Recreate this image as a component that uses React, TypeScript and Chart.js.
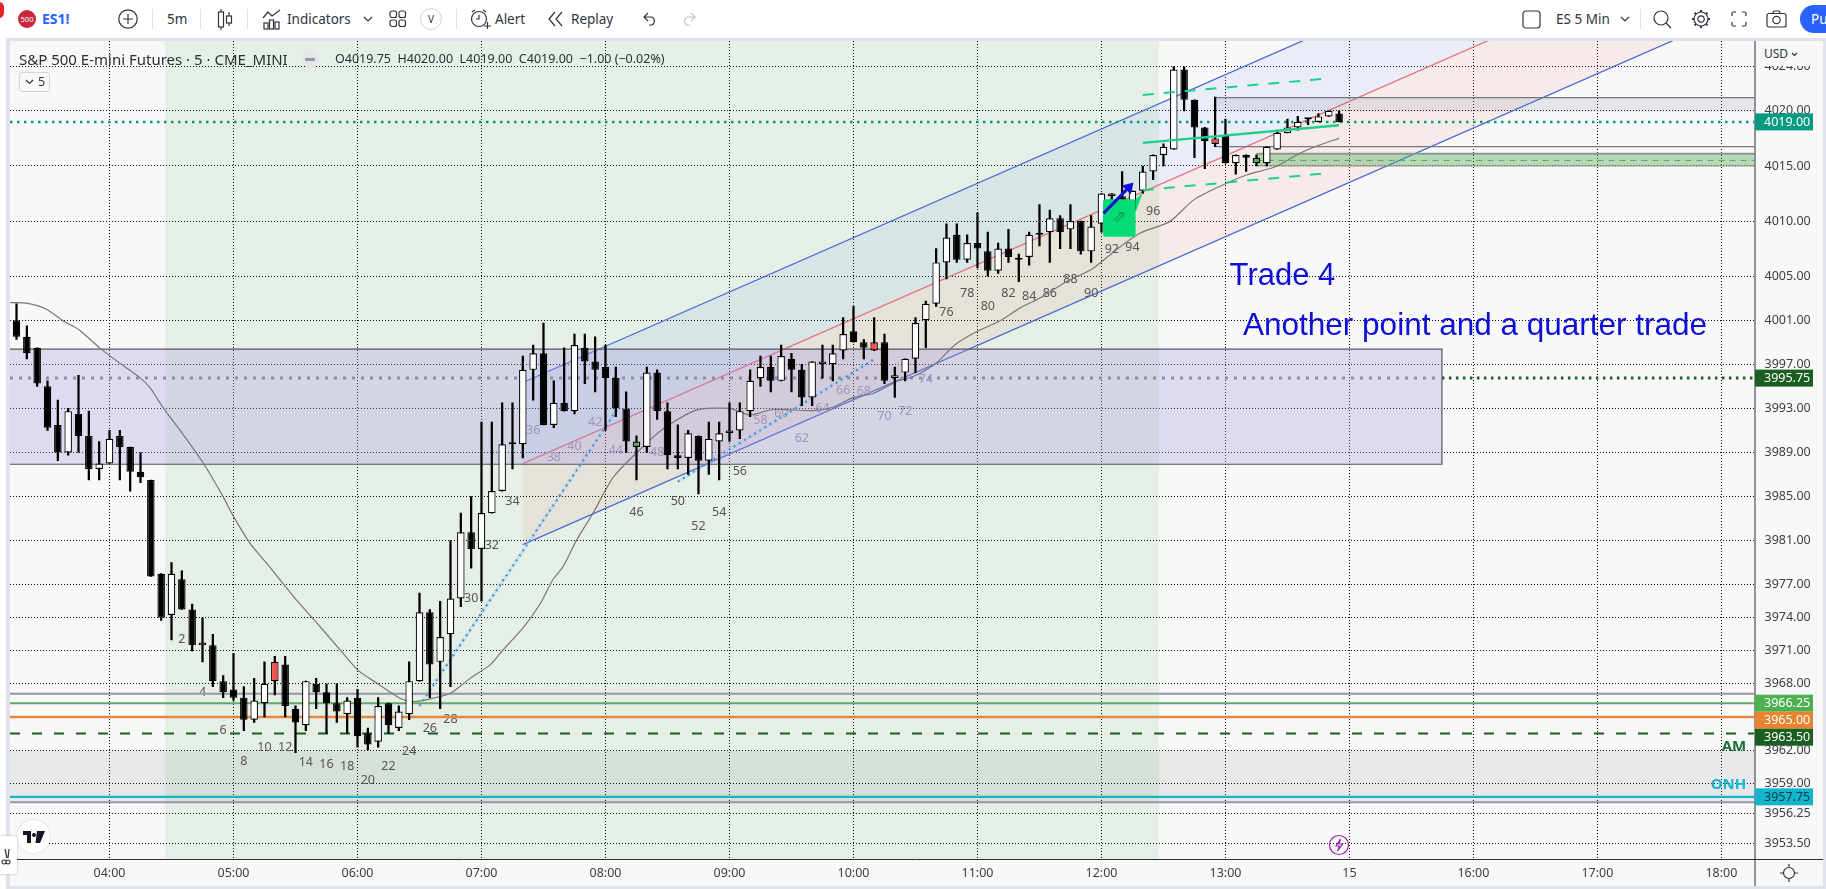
import React, { useEffect, useRef } from "react";
import { Chart, registerables } from "chart.js";

Chart.register(...registerables);

// ---------- data (x values are 5-minute slots counted from 04:00, y values are prices) ----------
const firstSlot = -9;
const opens = [
  4001, 3999.5, 3998.5, 3995, 3991.5, 3989, 3992.5, 3990.5, 3987.5, 3988,
  3990.5, 3989.5, 3987.25, 3986.5, 3978, 3974.25, 3977.5, 3974.75, 3971.5, 3971.5,
  3968.25, 3967.5, 3966.75, 3964.75, 3966.25, 3970, 3969.75, 3965.75, 3964.25, 3968,
  3967.25, 3966.25, 3965.25, 3966.75, 3963.5, 3962.75, 3966.25, 3964, 3965.25, 3968.25,
  3974.5, 3970, 3972.5, 3975.75, 3981.75, 3980.25, 3983.5, 3985.5, 3989.75, 3989.75,
  3996.5, 3998, 3991.5, 3993.5, 3992.75, 3998.5, 3997.25, 3996.75, 3995.75, 3993,
  3990, 3989.5, 3996.25, 3992.75, 3988.75, 3988.5, 3990.5, 3988.25, 3990, 3990.75,
  3991, 3992.75, 3995.75, 3996.75, 3995.5, 3997.5, 3996.5, 3994, 3997, 3997,
  3998.25, 4000, 3999, 3999, 3999, 3995.75, 3996.25, 3997.5, 4001, 4002.5,
  4006.25, 4008.75, 4006.5, 4008, 4007.25, 4005.5, 4007.5, 4006.5, 4006.75, 4008.75,
  4009, 4010.25, 4009.25, 4010, 4007.25, 4009.75, 4012.25, 4012.25, 4011, 4012.75,
  4014.5, 4016, 4016.5, 4023.75, 4021, 4018.5, 4017.5, 4017.75, 4015.25, 4016,
  4015.25, 4015.25, 4016.5, 4018, 4018.5, 4019.25, 4019, 4019.5, 4019.75,
];
const highs = [
  4002.5, 4000.5, 3998.5, 3995.5, 3993.75, 3993, 3996, 3992.75, 3990, 3991,
  3991, 3989.5, 3989, 3986.5, 3978, 3979, 3978.25, 3975.25, 3974, 3972.5,
  3968.75, 3970.75, 3967.75, 3968.5, 3970, 3970.5, 3970.5, 3966, 3968.25, 3968.5,
  3968, 3968, 3966.75, 3967.5, 3964, 3966.75, 3966.25, 3966, 3970, 3976.25,
  3974.75, 3975.5, 3981, 3983.5, 3985, 3991.75, 3991.75, 3993.5, 3993.5, 3997.75,
  3998.75, 4000.75, 3995.5, 3998.5, 3999.75, 3999.75, 3999.5, 3998.75, 3996.75, 3994.5,
  3990.5, 3996.75, 3996.5, 3993.5, 3991.5, 3991, 3990.5, 3991.75, 3991.75, 3993.5,
  3993.5, 3996.5, 3997.75, 3997.75, 3998.75, 3998, 3997, 3997.25, 3998.75, 3998.75,
  4001.25, 4002.25, 3999.25, 4001.25, 3999.75, 3996.75, 3997.5, 4001.25, 4002.75, 4007.5,
  4009.75, 4009.75, 4008.75, 4010.75, 4009, 4008, 4009.25, 4007, 4009, 4011.5,
  4011, 4010.5, 4011.5, 4010, 4010.5, 4012.5, 4012.5, 4014.5, 4012.75, 4015,
  4016, 4017, 4024, 4024, 4021, 4018.5, 4021.25, 4019.25, 4016, 4016,
  4016, 4016.75, 4018.25, 4019.25, 4019.5, 4019.25, 4019.75, 4020, 4020,
];
const lows = [
  3999.25, 3997.5, 3995, 3991, 3988.25, 3988.75, 3989, 3986.5, 3986.5, 3988,
  3986.5, 3985.5, 3986.25, 3977.75, 3973.75, 3972, 3974.75, 3971, 3970, 3967.75,
  3966.75, 3966.5, 3963.75, 3964.5, 3965, 3967, 3965, 3961.75, 3963.75, 3965.75,
  3963.5, 3964.5, 3963.5, 3962.25, 3962, 3962.25, 3963.5, 3963.75, 3964.75, 3968.25,
  3966.75, 3965.75, 3967.75, 3975, 3978.5, 3975.5, 3983.5, 3985.5, 3987.5, 3988.5,
  3993.75, 3991.5, 3991.25, 3992.75, 3992.5, 3995.25, 3994.5, 3991, 3992.25, 3989,
  3986.5, 3989, 3992, 3987.5, 3987.5, 3987, 3985.25, 3987, 3986.5, 3990,
  3990.25, 3992.25, 3995, 3994.5, 3995.5, 3994.5, 3993.25, 3993.25, 3995.75, 3995.5,
  3997.5, 3999, 3997.5, 3998.25, 3995.25, 3994, 3995.5, 3996.25, 3998.5, 4002.25,
  4004.75, 4006.25, 4006.25, 4005.75, 4005, 4005.25, 4006.25, 4004.5, 4006, 4007.75,
  4006.25, 4007.5, 4007.5, 4007, 4006.25, 4009, 4010, 4010, 4011, 4012.5,
  4013.75, 4015, 4016.5, 4020, 4015.75, 4014.75, 4016.75, 4015.25, 4014.25, 4014.5,
  4015, 4015, 4016.5, 4018, 4018.25, 4018.75, 4019, 4019.5, 4019,
];
const closes = [
  3999.5, 3998, 3995.25, 3991.25, 3989, 3992.75, 3990.5, 3987.5, 3988, 3990.25,
  3989.5, 3987.25, 3986.75, 3977.75, 3974, 3978, 3974.75, 3971.5, 3971.75, 3968.25,
  3967.25, 3966.75, 3964.75, 3966.5, 3968, 3968.25, 3966, 3964.5, 3968.25, 3967.25,
  3966.25, 3965.5, 3966.5, 3963.25, 3962.5, 3966, 3964.25, 3965.5, 3968.25, 3974.5,
  3969.75, 3972.25, 3975.75, 3981.75, 3980.25, 3983.5, 3985.5, 3989.75, 3989.75, 3996.5,
  3998, 3991.5, 3993.5, 3992.75, 3998.75, 3997.25, 3996.5, 3995.75, 3993, 3990,
  3989.5, 3996.25, 3992.75, 3988.75, 3988.5, 3990.75, 3988.25, 3990.25, 3990.75, 3991,
  3992.75, 3995.5, 3996.75, 3995.5, 3997.75, 3996.5, 3994, 3997.25, 3997.25, 3998,
  3999.75, 3999, 3998.5, 3998.25, 3995.5, 3996, 3997.5, 4000.75, 4002.5, 4006.25,
  4008.5, 4006.5, 4008, 4007.5, 4005.5, 4007.5, 4006.75, 4006.5, 4008.75, 4008.75,
  4010.25, 4009, 4010, 4007.25, 4009.5, 4012.5, 4012.5, 4011.5, 4012.75, 4014.5,
  4016, 4016.75, 4023.75, 4021, 4018.5, 4017.25, 4017, 4015.25, 4016, 4015.75,
  4015.75, 4016.75, 4018, 4018.5, 4019, 4019.25, 4019.5, 4020, 4019,
];
const redSlots = [9, 16, 74, 107];
const greenSlots = [51, 111];

const maSlots = [
  -9.6, -8, -6.1, -4.5, -2.9, -0.9, 1, 3, 3.9, 5.2, 6.8, 9.1, 10.9, 12, 13.6, 15.2, 18.1, 20.1, 22.3, 24.1,
  25.9, 28.1, 29.4, 31.3, 33, 34.9, 36.8, 38.1, 40, 41.7, 42.9, 43.9, 45.2, 46.8, 48.8, 52, 53.9, 56.8, 60, 62,
  64.2, 68.1, 70, 72, 73.9, 76.2, 77.8, 80, 81.8, 83.9, 86.2, 88.1, 90, 92.6, 95.1, 97.5, 99.7, 102.6, 104.9, 107.8,
  110.1, 112.9, 115.2, 117.1, 119,
];
const maValues = [
  4002.6, 4002.55, 4002, 4000.95, 4000.1, 3998.45, 3997.1, 3995.75, 3994.9, 3993.05, 3991.05, 3988, 3985.15, 3983.2, 3980.75, 3978.95, 3975.6, 3973.5, 3971.1, 3969.2,
  3968.05, 3966.7, 3966.4, 3966.7, 3967.15, 3968.5, 3969.7, 3971.1, 3973.05, 3975.3, 3977.45, 3978.65, 3981.05, 3983.5, 3986.8, 3989.85, 3991.35, 3992.85, 3993, 3992.4,
  3992.9, 3992.8, 3993.1, 3994, 3994.35, 3995.45, 3995.9, 3997.1, 3998.75, 3999.95, 4000.95, 4002.1, 4003, 4004.5, 4005.65, 4007.45, 4008.9, 4009.95, 4011.9, 4013.3,
  4014.2, 4014.95, 4016.15, 4016.9, 4017.5,
];

const barNumbers = [
  2, 4, 6, 8, 10, 12, 14, 16, 18, 20, 22, 24, 26, 28, 30, 32, 34, 36, 38, 40, 42, 44, 46, 48,
  50, 52, 54, 56, 58, 60, 62, 64, 66, 68, 70, 72, 74, 76, 78, 80, 82, 84, 86, 88, 90, 92, 94, 96,
];
const barNumberPrices = [
  3972, 3967.2, 3963.75, 3960.95, 3962.2, 3962.2, 3960.9, 3960.65, 3960.5, 3959.2, 3960.5, 3961.9, 3964, 3964.75, 3975.75, 3980.55, 3984.55, 3991, 3988.55, 3989.55, 3991.7, 3989.15, 3983.55, 3989,
  3984.55, 3982.25, 3983.55, 3987.25, 3991.95, 3992.5, 3990.25, 3993, 3994.65, 3994.55, 3992.25, 3992.7, 3995.65, 4001.7, 4003.4, 4002.25, 4003.4, 4003.2, 4003.4, 4004.7, 4003.4, 4007.4, 4007.65, 4010.85,
];

const priceTicks = [4024, 4020, 4015, 4010, 4005, 4001, 3997, 3993, 3989, 3985, 3981, 3977, 3974, 3971, 3968, 3965, 3962, 3959, 3956.25, 3953.5];
const timeTickSlots = [0, 12, 24, 36, 48, 60, 72, 84, 96, 108, 120, 132, 144, 156];
const timeTickLabels = ["04:00", "05:00", "06:00", "07:00", "08:00", "09:00", "10:00", "11:00", "12:00", "13:00", "15", "16:00", "17:00", "18:00"];

const slotMin = -9.63;
const slotMax = 159.2;
const priceMin = 3952.11;
const priceMax = 4026.34;

const sessionSlots = [5.37, 101.57];
const channelSlots = [40, 160];
const channelUpper = [3995.35, 4044.65];
const channelMiddle = [3987.99, 4037.3];
const channelLower = [3980.64, 4029.95];

const rangeBox = { from: slotMin, to: 128.95, top: 3998.37, bottom: 3987.93 };
const onhBand = { top: 3961.9, bottom: 3957.25 };
const upperBox = { from: 107, top: 4021.2, bottom: 4019.93, floorLine: 4016.75 };
const demandBand = { from: 111, top: 4016.1, bottom: 4015, mid: 4015.5 };

const level3995 = 3995.75;
const levelTags = [
  { price: 4019, text: "4019.00", bg: "#089981", fg: "#ffffff" },
  { price: 3995.75, text: "3995.75", bg: "#1b5e20", fg: "#ffffff" },
  { price: 3966.25, text: "3966.25", bg: "#4caf50", fg: "#ffffff" },
  { price: 3965, text: "3965.00", bg: "#e8832f", fg: "#ffffff" },
  { price: 3963.5, text: "3963.50", bg: "#1b5e20", fg: "#ffffff" },
  { price: 3957.75, text: "3957.75", bg: "#12b5cb", fg: "#0b3b44" },
];

const tradeSlots = [100, 118];
const tradeUpper = [4021.45, 4022.95];
const tradeLower = [4012.8, 4014.35];
const tradeEntrySlots = [100, 119];
const tradeEntry = [4017.1, 4018.7];
const dotted1Slots = [30, 49.1];
const dotted1Prices = [3966, 3992.85];
const dotted2Slots = [55, 73.9];
const dotted2Prices = [3986.35, 3997.4];
const arrowSlots = [96.2, 99.1];
const arrowPrices = [4010.7, 4013.5];
const flagSlots = [96.15, 99.3, 100];
const flagPrices = [4011.98, 4008.58, 4012.6];

const notes = [
  { text: "Trade 4", slot: 108.4, price: 4004.17, font: "31px 'Liberation Sans'", color: "#0f0fd6", align: "left" },
  { text: "Another point and a quarter trade", slot: 109.7, price: 3999.66, font: "31.5px 'Liberation Sans'", color: "#0f0fd6", align: "left" },
  { text: "AM", slot: 158.4, price: 3961.9, font: "bold 15px 'Noto Sans'", color: "#1b6a3a", align: "right" },
  { text: "ONH", slot: 158.4, price: 3958.5, font: "bold 15px 'Noto Sans'", color: "#12b5cb", align: "right" },
];

const UI = "'Noto Sans', sans-serif";
const TOOL = "#2f3440";

function seg(xs: number[], ys: number[]) {
  return xs.map((x, i) => ({ x, y: ys[i] }));
}
function flat(from: number, to: number, y: number) {
  return [{ x: from, y }, { x: to, y }];
}

const overlayPlugin = {
  id: "overlay",
  beforeDraw(chart: any) {
    const { ctx, width, height, scales, chartArea: a } = chart;
    ctx.save();
    ctx.fillStyle = "#f8f8f8";
    ctx.fillRect(0, 0, width, height);
    ctx.fillStyle = "#ffffff";
    ctx.fillRect(0, 0, 6, height);
    ctx.fillStyle = "#e0e3eb";
    ctx.fillRect(6, 38, width, 3);
    ctx.fillRect(6, 38, 4, height);
    ctx.fillRect(width - 3, 38, 3, height);
    ctx.fillRect(6, 886, width, 3);
    ctx.fillStyle = "#e5efe6";
    const l = scales.x.getPixelForValue(sessionSlots[0]);
    const r = scales.x.getPixelForValue(sessionSlots[1]);
    ctx.fillRect(l, a.top, r - l, a.bottom - a.top);
    ctx.restore();
  },
  beforeDatasetsDraw(chart: any) {
    const { ctx, scales, chartArea: a } = chart;
    const X = (v: number) => scales.x.getPixelForValue(v);
    const Y = (v: number) => scales.y.getPixelForValue(v);
    ctx.save();
    ctx.beginPath();
    ctx.rect(a.left, a.top, a.right - a.left, a.bottom - a.top);
    ctx.clip();
    const band = (p: number[], q: number[], color: string) => {
      ctx.fillStyle = color;
      ctx.beginPath();
      ctx.moveTo(X(channelSlots[0]), Y(p[0]));
      ctx.lineTo(X(channelSlots[1]), Y(p[1]));
      ctx.lineTo(X(channelSlots[1]), Y(q[1]));
      ctx.lineTo(X(channelSlots[0]), Y(q[0]));
      ctx.closePath();
      ctx.fill();
    };
    band(channelUpper, channelMiddle, "rgba(41,98,255,0.07)");
    band(channelMiddle, channelLower, "rgba(244,67,54,0.07)");
    const chLine = (p: number[], color: string) => {
      ctx.strokeStyle = color;
      ctx.lineWidth = 1.3;
      ctx.beginPath();
      ctx.moveTo(X(channelSlots[0]), Y(p[0]));
      ctx.lineTo(X(channelSlots[1]), Y(p[1]));
      ctx.stroke();
    };
    chLine(channelUpper, "#4a6ad8");
    chLine(channelLower, "#4a6ad8");
    chLine(channelMiddle, "#e8717f");

    ctx.font = "12.5px " + UI;
    ctx.textAlign = "center";
    ctx.textBaseline = "middle";
    barNumbers.forEach((n, i) => {
      const p = barNumberPrices[i];
      ctx.fillStyle = p < rangeBox.top && p > rangeBox.bottom ? "#9a97a8" : "#555555";
      ctx.fillText(String(n), X(n + 5), Y(p));
    });

    const bx = X(rangeBox.from);
    const bw = X(rangeBox.to) - bx;
    ctx.fillStyle = "rgba(170,150,225,0.3)";
    ctx.fillRect(bx, Y(rangeBox.top), bw, Y(rangeBox.bottom) - Y(rangeBox.top));
    ctx.strokeStyle = "#555560";
    ctx.lineWidth = 1.2;
    ctx.beginPath();
    ctx.moveTo(bx, Y(rangeBox.top));
    ctx.lineTo(bx + bw, Y(rangeBox.top));
    ctx.lineTo(bx + bw, Y(rangeBox.bottom));
    ctx.lineTo(bx, Y(rangeBox.bottom));
    ctx.stroke();

    ctx.fillStyle = "rgba(90,95,110,0.1)";
    ctx.fillRect(a.left, Y(onhBand.top), a.right - a.left, Y(onhBand.bottom) - Y(onhBand.top));

    const ux = X(upperBox.from);
    ctx.fillStyle = "rgba(120,125,150,0.15)";
    ctx.fillRect(ux, Y(upperBox.top), a.right - ux, Y(upperBox.bottom) - Y(upperBox.top));
    ctx.strokeStyle = "#77777f";
    ctx.lineWidth = 1.2;
    ctx.beginPath();
    ctx.moveTo(ux, Y(upperBox.top));
    ctx.lineTo(a.right, Y(upperBox.top));
    ctx.moveTo(ux, Y(upperBox.floorLine));
    ctx.lineTo(a.right, Y(upperBox.floorLine));
    ctx.stroke();

    const dx = X(demandBand.from);
    ctx.fillStyle = "rgba(76,175,80,0.4)";
    ctx.fillRect(dx, Y(demandBand.top), a.right - dx, Y(demandBand.bottom) - Y(demandBand.top));
    ctx.strokeStyle = "#8a9a92";
    ctx.lineWidth = 2;
    ctx.beginPath();
    ctx.moveTo(dx, Y(demandBand.top));
    ctx.lineTo(a.right, Y(demandBand.top));
    ctx.stroke();
    ctx.strokeStyle = "#a08a8a";
    ctx.lineWidth = 1;
    ctx.beginPath();
    ctx.moveTo(dx, Y(demandBand.bottom));
    ctx.lineTo(a.right, Y(demandBand.bottom));
    ctx.stroke();
    ctx.strokeStyle = "#6a9a7a";
    ctx.setLineDash([6, 5]);
    ctx.beginPath();
    ctx.moveTo(dx, Y(demandBand.mid));
    ctx.lineTo(a.right, Y(demandBand.mid));
    ctx.stroke();
    ctx.restore();
  },
  afterDatasetsDraw(chart: any) {
    const { ctx, scales } = chart;
    const X = (v: number) => scales.x.getPixelForValue(v);
    const Y = (v: number) => scales.y.getPixelForValue(v);
    ctx.save();
    // signal flag
    ctx.fillStyle = "#06dc76";
    ctx.strokeStyle = "#06dc76";
    ctx.lineWidth = 5;
    ctx.lineJoin = "round";
    const inset = 2.5 / 10.33;
    const insetP = 2.5 / 11;
    ctx.beginPath();
    ctx.moveTo(X(flagSlots[0] + inset), Y(flagPrices[0] - insetP));
    ctx.lineTo(X(flagSlots[1] - inset), Y(flagPrices[0] - insetP));
    ctx.lineTo(X(flagSlots[1] - inset), Y(flagPrices[1] + insetP));
    ctx.lineTo(X(flagSlots[0] + inset), Y(flagPrices[1] + insetP));
    ctx.closePath();
    ctx.fill();
    ctx.stroke();
    ctx.lineWidth = 1;
    ctx.beginPath();
    ctx.moveTo(X(flagSlots[1]), Y(flagPrices[0]));
    ctx.lineTo(X(flagSlots[2]), Y(flagPrices[2]));
    ctx.lineTo(X(flagSlots[1]), Y(flagPrices[0] - 1.2));
    ctx.closePath();
    ctx.fill();
    ctx.fillStyle = "#0a9c5a";
    ctx.font = "17px 'DejaVu Sans'";
    ctx.textAlign = "center";
    ctx.textBaseline = "middle";
    ctx.fillText("\u21D7", X((flagSlots[0] + flagSlots[1]) / 2), Y((flagPrices[0] + flagPrices[1]) / 2));
    // arrow
    const x0 = X(arrowSlots[0]), y0 = Y(arrowPrices[0]), x1 = X(arrowSlots[1]), y1 = Y(arrowPrices[1]);
    const ang = Math.atan2(y1 - y0, x1 - x0);
    ctx.strokeStyle = "#1010d8";
    ctx.fillStyle = "#1010d8";
    ctx.lineWidth = 3;
    ctx.lineJoin = "miter";
    ctx.beginPath();
    ctx.moveTo(x0, y0);
    ctx.lineTo(x1 - 4 * Math.cos(ang), y1 - 4 * Math.sin(ang));
    ctx.stroke();
    ctx.beginPath();
    ctx.moveTo(x1, y1);
    ctx.lineTo(x1 - 12 * Math.cos(ang - 0.55), y1 - 12 * Math.sin(ang - 0.55));
    ctx.lineTo(x1 - 12 * Math.cos(ang + 0.55), y1 - 12 * Math.sin(ang + 0.55));
    ctx.closePath();
    ctx.fill();
    // notes
    ctx.textBaseline = "alphabetic";
    notes.forEach((n) => {
      ctx.font = n.font;
      ctx.fillStyle = n.color;
      ctx.textAlign = n.align as CanvasTextAlign;
      ctx.fillText(n.text, X(n.slot), Y(n.price));
    });
    ctx.restore();
  },
  afterDraw(chart: any) {
    const { ctx, scales, chartArea: a, width } = chart;
    ctx.save();
    ctx.strokeStyle = "#2a2e39";
    ctx.lineWidth = 1;
    ctx.beginPath();
    ctx.moveTo(a.right + 0.5, a.top);
    ctx.lineTo(a.right + 0.5, 886);
    ctx.moveTo(a.left, a.bottom + 0.5);
    ctx.lineTo(width - 3, a.bottom + 0.5);
    ctx.stroke();
    let prev = -100;
    ctx.font = "12.5px " + UI;
    ctx.textAlign = "left";
    ctx.textBaseline = "middle";
    levelTags.forEach((t) => {
      let y = scales.y.getPixelForValue(t.price);
      if (y < prev + 17) y = prev + 17;
      prev = y;
      ctx.fillStyle = t.bg;
      ctx.fillRect(a.right + 0.5, y - 8.5, 58, 17);
      ctx.fillStyle = t.fg;
      ctx.fillText(t.text, a.right + 9.5, y + 0.5);
    });
    ctx.restore();
  },
};

function Svg({ x, y, w, h, children }: any) {
  return (
    <svg width={w} height={h} viewBox={`0 0 ${w} ${h}`} style={{ position: "absolute", left: x, top: y, overflow: "visible" }} fill="none" stroke={TOOL} strokeWidth={1.2}>
      {children}
    </svg>
  );
}
function Txt({ x, y, size = 13, color = TOOL, weight = 400, children, center = false }: any) {
  return (
    <div style={{ position: "absolute", left: x, top: y, fontFamily: UI, fontSize: size, color, fontWeight: weight, lineHeight: "18px", whiteSpace: "nowrap", transform: center ? "translateX(-50%)" : undefined }}>
      {children}
    </div>
  );
}
function Sep({ x }: any) {
  return <div style={{ position: "absolute", left: x, top: 9, width: 1, height: 21, background: "#e0e3eb" }} />;
}

export default function App() {
  const ref = useRef<HTMLCanvasElement>(null);
  useEffect(() => {
    const slots = opens.map((_, i) => firstSlot + i);
    const bodyColors = slots.map((s, i) =>
      redSlots.includes(s) ? "#f44f4f" : greenSlots.includes(s) ? "#4caf50" : closes[i] > opens[i] ? "#ffffff" : "#000000"
    );
    const levelLine = (data: any[], color: string, width: number, dash: number[] = [], order = 5) => ({
      type: "line", data, borderColor: color, borderWidth: width, borderDash: dash, pointRadius: 0, order, fill: false, tension: 0,
    });
    const chart = new Chart(ref.current as HTMLCanvasElement, {
      type: "bar",
      data: {
        datasets: [
          levelLine(flat(slotMin, slotMax, 3967.1), "#9896a3", 2),
          levelLine(flat(slotMin, slotMax, onhBand.bottom), "#9896a3", 2),
          levelLine(flat(slotMin, slotMax, 3966.25), "#63a866", 2),
          levelLine(flat(slotMin, slotMax, 3965), "#e8863c", 2.4),
          levelLine(flat(slotMin, slotMax, 3963.5), "#1b5e20", 2, [10, 12]),
          levelLine(flat(slotMin, slotMax, 3957.75), "#12b5cb", 2.4),
          levelLine(flat(slotMin, slotMax, 4019), "#089981", 2.5, [2.5, 4.5]),
          levelLine(flat(slotMin, rangeBox.to, level3995), "#8e8e9e", 3, [3, 6]),
          levelLine(flat(rangeBox.to, slotMax, level3995), "#1b5e20", 3, [2.5, 4.5]),
          levelLine(seg(dotted1Slots, dotted1Prices), "rgba(130,200,250,0.25)", 3.5),
          levelLine(seg(dotted1Slots, dotted1Prices), "#3a7fc0", 2.2, [2, 4]),
          levelLine(seg(dotted2Slots, dotted2Prices), "rgba(130,200,250,0.25)", 3.5),
          levelLine(seg(dotted2Slots, dotted2Prices), "#3a7fc0", 2.2, [2, 4]),
          { ...levelLine(seg(maSlots, maValues), "#77787c", 1.2, [], 3), tension: 0.25 },
          {
            type: "bar", label: "wick", data: slots.map((s, i) => ({ x: s, y: [lows[i], highs[i]] })),
            backgroundColor: "#000000", barThickness: 1.6, grouped: false, order: 2, borderWidth: 0,
          },
          {
            type: "bar", label: "body", data: slots.map((s, i) => ({ x: s, y: [opens[i], closes[i]] })),
            backgroundColor: bodyColors, borderColor: "#000000", borderWidth: 1.2, borderSkipped: false,
            barThickness: 7.5, grouped: false, order: 1, minBarLength: 2, inflateAmount: 0,
          },
          levelLine(seg(tradeSlots, tradeUpper), "#1fd08a", 2, [11, 10], 0),
          levelLine(seg(tradeSlots, tradeLower), "#1fd08a", 2, [11, 10], 0),
          levelLine(seg(tradeEntrySlots, tradeEntry), "#1fd08a", 2.4, [], 0),
        ] as any,
      },
      plugins: [overlayPlugin as any],
      options: {
        animation: false,
        responsive: false,
        devicePixelRatio: 1,
        layout: { padding: { left: 10, top: 41, right: 0, bottom: 0 } },
        plugins: { legend: { display: false }, tooltip: { enabled: false }, title: { display: false } },
        scales: {
          x: {
            type: "linear", min: slotMin, max: slotMax, offset: false,
            grid: { offset: false, color: "#0a0a0a", drawTicks: false, lineWidth: 1 },
            border: { display: false, dash: [1, 2] },
            afterBuildTicks: (s: any) => { s.ticks = timeTickSlots.map((v) => ({ value: v })); },
            afterFit: (s: any) => { s.height = 30; },
            ticks: {
              autoSkip: false, maxRotation: 0, padding: 7, color: "#3a3e48", font: { size: 12.5, family: UI },
              callback: (v: any) => timeTickLabels[timeTickSlots.indexOf(v)],
            },
          },
          y: {
            type: "linear", position: "right", min: priceMin, max: priceMax,
            grid: { color: "#0a0a0a", drawTicks: false, lineWidth: 1 },
            border: { display: false, dash: [1, 2] },
            afterBuildTicks: (s: any) => { s.ticks = priceTicks.map((v) => ({ value: v })); },
            afterFit: (s: any) => { s.width = 71.5; },
            ticks: {
              autoSkip: false, padding: 10, color: "#3a3e48", font: { size: 12.5, family: UI },
              callback: (v: any) => Number(v).toFixed(2),
            },
          },
        },
      } as any,
    });
    return () => chart.destroy();
  }, []);

  return (
    <div style={{ position: "fixed", left: 0, top: 0, width: 1826, height: 889, overflow: "hidden", background: "#ffffff" }}>
      <canvas ref={ref} width={1826} height={889} style={{ position: "absolute", left: 0, top: 0, width: 1826, height: 889 }} />

      {/* toolbar */}
      <div style={{ position: "absolute", left: 0, top: 0, width: 1826, height: 38, background: "#ffffff" }}>
        <div style={{ position: "absolute", left: -6, top: 2, width: 10, height: 16, borderRadius: 8, background: "#e3242b" }} />
        <div style={{ position: "absolute", left: 18, top: 10, width: 18, height: 18, borderRadius: 9, background: "#c9263c", color: "#fff", fontFamily: UI, fontSize: 7.5, lineHeight: "18px", textAlign: "center" }}>500</div>
        <Txt x={42} y={10} size={14} color="#2962ff" weight={700}>ES1!</Txt>
        <Svg x={118} y={9} w={20} h={20}>
          <circle cx={10} cy={10} r={9.2} /><path d="M10 5v10M5 10h10" />
        </Svg>
        <Sep x={152} />
        <Txt x={167} y={10} size={13.5}>5m</Txt>
        <Sep x={200} />
        <Svg x={217} y={8} w={16} h={22}>
          <path d="M4 1v3M4 19v3M12 4v4M12 15v3" /><rect x={1.5} y={4} width={5} height={15} /><rect x={9.5} y={8} width={5} height={7} />
        </Svg>
        <Sep x={247} />
        <Svg x={262} y={8} w={20} h={22}>
          <path d="M1 10l5-6 4 4 8-6" /><rect x={2} y={15} width={4} height={6} /><rect x={7.5} y={12} width={4} height={9} /><rect x={13} y={14} width={4} height={7} />
        </Svg>
        <Txt x={287} y={10} size={13.5}>Indicators</Txt>
        <Svg x={363} y={16} w={10} h={6}><path d="M1 1l4 4 4-4" /></Svg>
        <Svg x={389} y={10} w={18} h={18}>
          <rect x={1} y={1} width={6.5} height={6.5} rx={2} /><rect x={10} y={1} width={6.5} height={6.5} rx={2} /><rect x={1} y={10} width={6.5} height={6.5} rx={2} /><rect x={10} y={10} width={6.5} height={6.5} rx={2} />
        </Svg>
        <div style={{ position: "absolute", left: 420, top: 8, width: 20, height: 20, borderRadius: 11, border: "1px solid #d1d4dc", color: TOOL, fontFamily: UI, fontSize: 10, lineHeight: "20px", textAlign: "center" }}>V</div>
        <Sep x={456} />
        <Svg x={470} y={9} w={20} h={21}>
          <circle cx={9} cy={10} r={7.5} /><path d="M9 6v4h-3M2 3l3-2M16 3l-3-2M14 17h7M17.5 13v7" />
        </Svg>
        <Txt x={495} y={10} size={13.5}>Alert</Txt>
        <Svg x={548} y={11} w={16} h={16}><path d="M7 1L1 8l6 7M14 1L8 8l6 7" /></Svg>
        <Txt x={571} y={10} size={13.5}>Replay</Txt>
        <Svg x={643} y={12} w={15} h={14}><path d="M5 1L1 5l4 4M1 5h8a4.5 4.5 0 0 1 0 8H6" /></Svg>
        <Svg x={681} y={12} w={15} h={14}><path d="M10 1l4 4-4 4M14 5H6a4.5 4.5 0 0 0 0 8h3" stroke="#c1c4cd" /></Svg>
        <Svg x={1522} y={10} w={19} h={19}><rect x={1} y={1} width={17} height={17} rx={3} /></Svg>
        <Txt x={1556} y={10} size={13.5}>ES 5 Min</Txt>
        <Svg x={1620} y={16} w={10} h={6}><path d="M1 1l4 4 4-4" /></Svg>
        <Sep x={1640} />
        <Svg x={1653} y={10} w={19} h={19}><circle cx={8} cy={8} r={7} /><path d="M13 13l5 5" /></Svg>
        <Svg x={1691} y={9} w={20} h={20}>
          <circle cx={10} cy={10} r={3.2} /><circle cx={10} cy={10} r={7} /><path d="M10 1v2M10 17v2M1 10h2M17 10h2M3.6 3.6l1.4 1.4M15 15l1.4 1.4M3.6 16.4L5 15M15 5l1.4-1.4" strokeWidth={2} />
        </Svg>
        <Svg x={1731} y={11} w={16} h={16}><path d="M1 5V2.5A1.5 1.5 0 0 1 2.5 1H5M11 1h2.5A1.5 1.5 0 0 1 15 2.5V5M15 11v2.5a1.5 1.5 0 0 1-1.5 1.5H11M5 15H2.5A1.5 1.5 0 0 1 1 13.5V11" /></Svg>
        <Svg x={1766} y={10} w={21} h={18}><rect x={1} y={3.5} width={19} height={13.5} rx={2} /><circle cx={10.5} cy={10} r={3.7} /><path d="M6.5 3.5L8 1h5l1.5 2.5" /></Svg>
        <div style={{ position: "absolute", left: 1800, top: 5, width: 40, height: 28, borderRadius: 14, background: "#2962ff", color: "#fff", fontFamily: UI, fontSize: 13.5, lineHeight: "28px", paddingLeft: 11, boxSizing: "border-box" }}>Pu</div>
      </div>

      {/* legend line */}
      <Txt x={19} y={50} size={15} color="#2a2e39">S&amp;P 500 E-mini Futures · 5 · CME_MINI</Txt>
      <div style={{ position: "absolute", left: 301, top: 50, width: 18, height: 18, borderRadius: 9, background: "#e4e6ea" }}>
        <div style={{ position: "absolute", left: 4, top: 7.5, width: 10, height: 3, borderRadius: 1, background: "#9598a1" }} />
      </div>
      <Txt x={335} y={50} size={12.5} color="#2a2e39">O4019.75&nbsp;&nbsp;H4020.00&nbsp;&nbsp;L4019.00&nbsp;&nbsp;C4019.00&nbsp;&nbsp;−1.00 (−0.02%)</Txt>
      <div style={{ position: "absolute", left: 19, top: 72, width: 31, height: 20, boxSizing: "border-box", border: "1px solid #d1d4dc", borderRadius: 3, background: "#f8f8f8" }}>
        <Svg x={5} y={6} w={9} h={6}><path d="M1 1l3.5 3.5L8 1" /></Svg>
        <Txt x={18} y={0} size={12.5}>5</Txt>
      </div>

      {/* price-scale header */}
      <div style={{ position: "absolute", left: 1756, top: 41, width: 66, height: 25, background: "#f8f8f8" }}>
        <Txt x={8} y={4} size={12}>USD</Txt>
        <Svg x={35} y={11} w={7} h={5}><path d="M1 1l2.5 2.5L6 1" /></Svg>
      </div>

      {/* watermark & helpers */}
      <div style={{ position: "absolute", left: 17, top: 820, width: 33, height: 33, borderRadius: 17, background: "#ffffff", boxShadow: "0 0 2px rgba(0,0,0,0.2)" }}>
        <svg width={22} height={12} viewBox="0 0 22 12" style={{ position: "absolute", left: 6, top: 11 }} fill="#131722">
          <path d="M0 0h8v12H4V4H0zM9 4a2 2 0 1 0 0-.1zM14 0h8l-5 12h-4.5z" />
        </svg>
      </div>
      <div style={{ position: "absolute", left: -4, top: 836, width: 21, height: 38, borderRadius: 4, background: "#ffffff", boxShadow: "0 0 3px rgba(0,0,0,0.25)" }}>
        <Svg x={5} y={12} w={12} h={15}><path d="M4 1l2 9M8 1L7 10M3 12a2 2 0 1 0 .1 0M7 12a2 2 0 1 0 .1 0" /></Svg>
      </div>
      <Svg x={1329} y={835} w={20} h={20}>
        <circle cx={10} cy={10} r={9.5} stroke="#9c27b0" /><path d="M11.5 4L7 11h3.5L8.5 16l5-7H10z" stroke="#9c27b0" />
      </Svg>
      <Svg x={1780} y={864} w={18} h={18}>
        <circle cx={9} cy={9} r={5.5} /><path d="M9 0v3M9 15v3M0 9h3M15 9h3" />
      </Svg>
    </div>
  );
}
